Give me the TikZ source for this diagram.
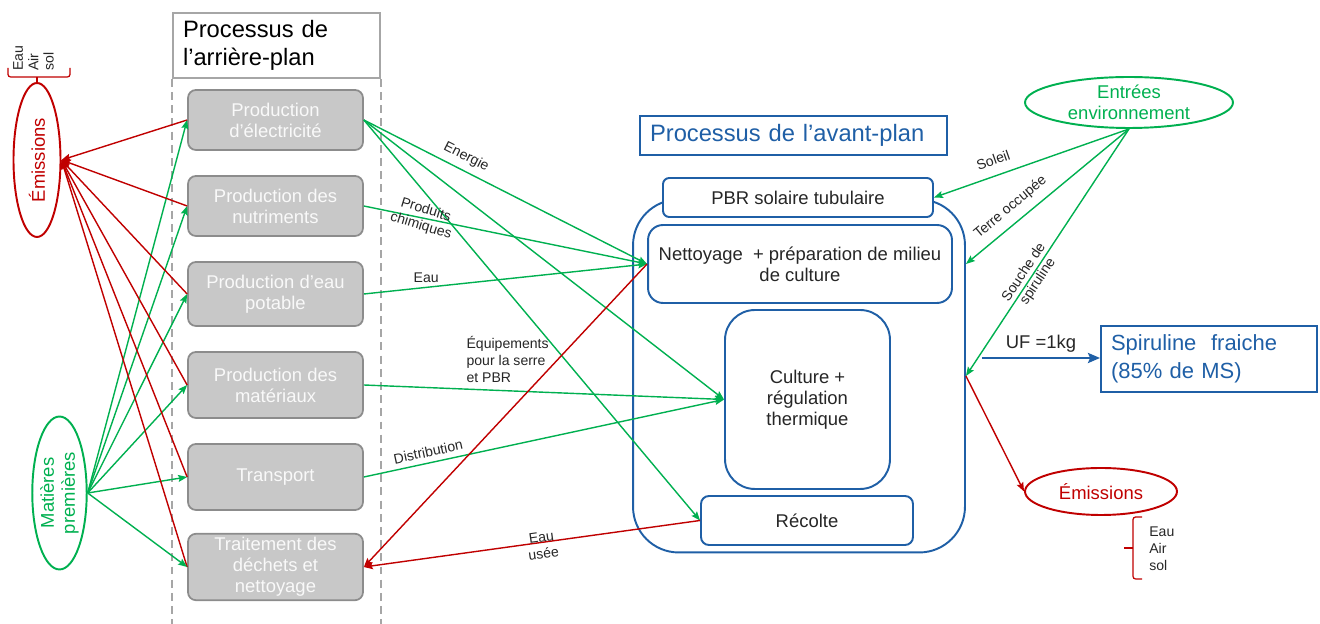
\documentclass[tikz,border=0pt]{standalone}
\usepackage{fontspec}
\setmainfont{Liberation Sans}
\usetikzlibrary{arrows.meta,positioning,calc,shapes.geometric}
\definecolor{lcagreen}{HTML}{00B050}
\definecolor{lcared}{HTML}{C00000}
\definecolor{lcablue}{HTML}{1F5FA6}
\definecolor{boxgray}{HTML}{C8C8C8}
\definecolor{edgegray}{HTML}{8C8C8C}
\definecolor{linegray}{HTML}{A6A6A6}
\definecolor{txtdark}{HTML}{262626}
\newcommand{\fsbox}{\fontsize{10.5pt}{12pt}\selectfont}
\newcommand{\fstitle}{\fontsize{13.5pt}{16pt}\selectfont}
\newcommand{\fslbl}{\fontsize{8pt}{9.5pt}\selectfont}
\tikzset{
  bgbox/.style={draw=edgegray, line width=1pt, fill=boxgray, rounded corners=4.5pt,
                inner sep=2pt, align=center, text=white!95!gray, font=\fsbox, minimum width=3.5cm},
  fgbox/.style={draw=lcablue, line width=1.1pt, fill=white, inner sep=2pt,
                align=center, text=txtdark, font=\fsbox},
  titlebox/.style={line width=1.1pt, inner xsep=0.2cm, inner ysep=0pt, align=left, font=\fstitle},
  oval/.style={ellipse, line width=1.1pt, inner sep=0pt, align=center, font=\fsbox},
  lbl/.style={font=\fslbl, text=txtdark, inner sep=1.5pt, align=center},
  dashline/.style={draw=linegray, line width=1pt, dash pattern=on 4.5pt off 3pt},
  garr/.style={-{Stealth[length=1.8mm, width=1.4mm, inset=0.3mm]}, line width=0.8pt, color=lcagreen},
  rarr/.style={-{Stealth[length=1.8mm, width=1.4mm, inset=0.3mm]}, line width=0.8pt, color=lcared},
  barr/.style={-{Stealth[length=2.4mm, width=2mm, inset=0.4mm]}, line width=1.4pt, color=lcablue}}

\begin{document}
\begin{tikzpicture}[x=0.02cm, y=-0.02cm]
  \useasboundingbox (0,0) rectangle (1320,624);
  % background processes
  \node[titlebox, draw=linegray, text width=3.74cm, minimum height=1.3cm] (bgt) at (276.5,45.5)
    {Processus de\\l’arrière-plan};
  \draw[dashline] (bgt.south west) -- (bgt.south west |- 0,624);
  \draw[dashline] (bgt.south east) -- (bgt.south east |- 0,624);
  \node[bgbox, minimum height=1.2cm]  (elec) at (275.5,120) {Production\\d’électricité};
  \node[bgbox, minimum height=1.2cm]  (nutr) at (275.5,206) {Production des\\nutriments};
  \node[bgbox, minimum height=1.28cm] (eaup) at (275.5,294) {Production d’eau\\potable};
  \node[bgbox, minimum height=1.32cm] (mate) at (275.5,385) {Production des\\matériaux};
  \node[bgbox, minimum height=1.32cm] (tran) at (275.5,477) {Transport};
  \node[bgbox, minimum height=1.32cm] (dech) at (275.5,567) {Traitement des\\déchets et\\nettoyage};

  % left ovals
  \node[oval, draw=lcared, text=lcared, rotate=90, minimum width=3.08cm, minimum height=0.94cm] (emg) at (37,160) {Émissions};
  \node[oval, draw=lcagreen, text=lcagreen, rotate=90, minimum width=3.06cm, minimum height=0.9cm] (matp) at (59.5,493) {Matières\\premières};
  \draw[lcared, line width=0.7pt, rounded corners=1.5pt] (8,68) -- (8,77) -- (70,77) -- (70,68);
  \draw[lcared, line width=0.7pt] (37,77) -- (emg.east);
  \node[lbl, rotate=90, align=left, anchor=west, inner sep=0pt, font=\fontsize{8pt}{8.8pt}\selectfont] (emgl) at (33.5,71) {Eau\\Air\\sol};

  \foreach \b in {elec,nutr,eaup,mate,tran,dech}{
    \draw[rarr] (\b.west) -- (emg.south);
    \draw[garr] (matp.south) -- (\b.west);
  }

  % foreground processes
  \node[titlebox, draw=lcablue, text=lcablue, text width=5.74cm, minimum height=0.78cm] (fgt) at (793.5,135.5)
    {Processus de l’avant-plan};
  \node[draw=lcablue, line width=1.1pt, rounded corners=26pt, minimum width=6.64cm, minimum height=7.06cm] (cont) at (799,376) {};
  \node[fgbox, rounded corners=3.5pt, minimum width=5.4cm, minimum height=0.78cm] (pbr) at (798,197.5) {PBR solaire tubulaire};
  \node[fgbox, rounded corners=8.5pt, minimum width=6.08cm, minimum height=1.56cm] (nett) at (800,264)
    {Nettoyage\ \ + préparation de milieu\\de culture};
  \node[fgbox, rounded corners=17pt, minimum width=3.3cm, minimum height=3.58cm] (cult) at (807.5,399.5)
    {Culture +\\régulation\\thermique};
  \node[fgbox, rounded corners=4.5pt, minimum width=4.24cm, minimum height=0.98cm] (reco) at (807,520.5) {Récolte};

  % flows from background to foreground
  \draw[garr] (elec.east) -- node[lbl, sloped, above=2pt, pos=0.34] {Energie} (nett.west);
  \draw[garr] (elec.east) -- (cult.west);
  \draw[garr] (elec.east) -- (reco.west);
  \draw[garr] (nutr.east) -- node[lbl, rotate=-17, pos=0.21] {Produits\\chimiques} (nett.west);
  \draw[garr] (eaup.east) -- node[lbl, above=1pt, pos=0.22] {Eau} (nett.west);
  \draw[garr] (mate.east) -- node[lbl, align=left, anchor=south west, yshift=2pt, pos=0.276]
    {Équipements\\pour la serre\\et PBR} (cult.west);
  \draw[garr] (tran.east) -- node[lbl, sloped, above=1.5pt, pos=0.185] {Distribution} (cult.west);
  \draw[rarr] (nett.west) -- (dech.east);
  \draw[rarr] (reco.west) -- node[lbl, sloped, pos=0.47, yshift=-2pt] {Eau\\usée} (dech.east);

  % environment and outputs
  \node[oval, draw=lcagreen, text=lcagreen, minimum width=4.16cm, minimum height=1.02cm] (envi) at (1129,102.5)
    {Entrées\\environnement};
  \draw[garr] (envi.south) -- node[lbl, sloped, above=4pt, pos=0.67] {Soleil} (pbr.east);
  \draw[garr] (envi.south) -- node[lbl, sloped, above=3pt, pos=0.667] {Terre occupée} (cont.east |- nett.east);
  \draw[garr] (envi.south) -- node[lbl, sloped, pos=0.6] {Souche de\\spiruline} (cont.east);

  \node[titlebox, draw=lcablue, text=lcablue, text width=3.92cm, minimum height=1.32cm,
        font=\fontsize{12.5pt}{16pt}\selectfont] (spir) at (1209,359) {Spiruline\ \ fraiche\\(85\% de MS)};
  \coordinate (ufs) at (982,358);
  \draw[barr] (ufs) -- node[lbl, above=1pt, font=\fsbox] {UF =1kg} (ufs -| spir.west);

  \node[oval, draw=lcared, text=lcared, minimum width=3.04cm, minimum height=0.94cm] (emd) at (1101,491.5) {Émissions};
  \draw[rarr] (cont.east) -- (emd.west);
  \draw[lcared, line width=0.7pt, rounded corners=1.5pt] (1142,517) -- (1133,517) -- (1133,579) -- (1142,579);
  \draw[lcared, line width=0.7pt] (1133,548) -- (1124,548);
  \node[lbl, align=left, anchor=west, inner sep=0pt, font=\fontsize{8pt}{9.7pt}\selectfont] (emdl) at (1149,549) {Eau\\Air\\sol};
\end{tikzpicture}
\end{document}
